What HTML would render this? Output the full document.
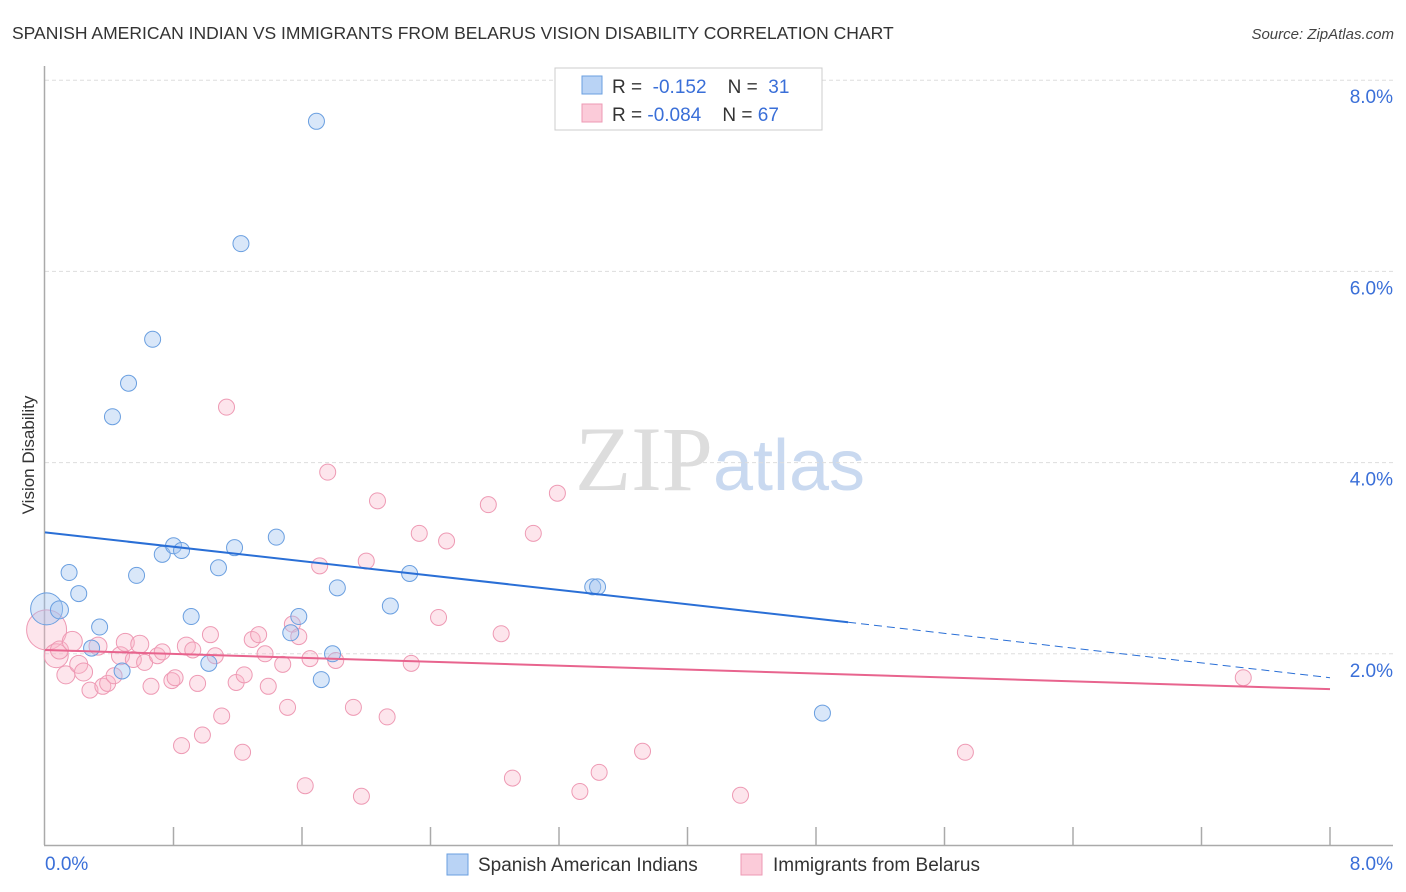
<!DOCTYPE html>
<html><head><meta charset="utf-8"><style>
body{margin:0;background:#fff;font-family:"Liberation Sans",sans-serif;}
svg{display:block}
</style></head><body>
<svg id="chart" width="1406" height="892" xmlns="http://www.w3.org/2000/svg">
<text x="12" y="39" font-size="17.5" fill="#333">SPANISH AMERICAN INDIAN VS IMMIGRANTS FROM BELARUS VISION DISABILITY CORRELATION CHART</text>
<text x="1394" y="39" font-size="15" fill="#444" font-style="italic" text-anchor="end">Source: ZipAtlas.com</text>
<text x="720" y="490" font-size="92" text-anchor="middle" fill="#ddd" font-family="Liberation Serif,serif">ZIP<tspan fill="#c9d9f0" font-family="Liberation Sans,sans-serif" font-size="72">atlas</tspan></text>
<text transform="translate(34,455) rotate(-90)" font-size="17" fill="#333" text-anchor="middle">Vision Disability</text>
<g id="grid"></g>
<line x1="44.5" y1="66" x2="44.5" y2="845" stroke="#aaa" stroke-width="1.5"/>
<line x1="44" y1="845.5" x2="1393" y2="845.5" stroke="#aaa" stroke-width="1.5"/>
<g id="ticks"></g>
<g id="pts"></g>
<g id="trends"></g>
<g>
<rect x="555" y="68" width="267" height="62" fill="#fff" stroke="#ccc"/>
<rect x="582" y="76" width="20" height="18" fill="#b9d3f5" stroke="#6a9fe0"/>
<rect x="582" y="104" width="20" height="18" fill="#fbcbd9" stroke="#ee9ab4"/>
<text x="612" y="93" font-size="19" fill="#333">R = <tspan fill="#3a6fd8">&#160;-0.152</tspan>&#160;&#160;&#160; N = <tspan fill="#3a6fd8">&#160;31</tspan></text>
<text x="612" y="121" font-size="19" fill="#333">R = <tspan fill="#3a6fd8">-0.084</tspan>&#160;&#160;&#160; N = <tspan fill="#3a6fd8">67</tspan></text>
</g>
<g>
<rect x="447" y="854" width="21" height="21" fill="#b9d3f5" stroke="#6a9fe0"/>
<text x="478" y="871" font-size="19" fill="#333">Spanish American Indians</text>
<rect x="741" y="854" width="21" height="21" fill="#fbcbd9" stroke="#ee9ab4"/>
<text x="773" y="871" font-size="19" fill="#333">Immigrants from Belarus</text>
</g>
</svg>
<script>
const xTicks=[0,8];
const yTicks=[2,4,6,8];
const blueX=[0.01,0.09,0.15,0.21,0.34,0.29,0.48,0.42,0.52,0.67,0.57,0.73,0.80,0.85,0.91,1.02,1.08,1.18,1.22,1.44,1.53,1.58,1.69,1.72,1.79,1.82,2.15,2.27,3.41,3.44,4.84];
const blueY=[2.47,2.46,2.85,2.63,2.28,2.06,1.82,4.48,4.83,5.29,2.82,3.04,3.13,3.08,2.39,1.90,2.90,3.11,6.29,3.22,2.22,2.39,7.57,1.73,2.00,2.69,2.50,2.84,2.70,2.70,1.38];
const blueR=[16,9,8,8,8,8,8,8,8,8,8,8,8,8,8,8,8,8,8,8,8,8,8,8,8,8,8,8,8,8,8];
const pinkX=[0.01,0.07,0.09,0.13,0.17,0.21,0.24,0.28,0.33,0.36,0.39,0.43,0.47,0.50,0.55,0.59,0.62,0.66,0.70,0.73,0.79,0.81,0.85,0.88,0.92,0.95,0.98,1.03,1.06,1.10,1.13,1.19,1.23,1.24,1.29,1.33,1.37,1.39,1.48,1.51,1.54,1.58,1.62,1.65,1.71,1.76,1.81,1.92,1.97,2.00,2.07,2.13,2.28,2.33,2.45,2.50,2.76,2.84,2.91,3.04,3.19,3.33,3.45,3.72,4.33,5.73,7.46];
const pinkY=[2.25,1.98,2.04,1.78,2.13,1.89,1.81,1.62,2.08,1.66,1.69,1.77,1.98,2.12,1.94,2.10,1.91,1.66,1.98,2.02,1.72,1.75,1.04,2.08,2.04,1.69,1.15,2.20,1.98,1.35,4.58,1.70,0.97,1.78,2.15,2.20,2.00,1.66,1.89,1.44,2.31,2.18,0.62,1.95,2.92,3.90,1.93,1.44,0.51,2.97,3.60,1.34,1.90,3.26,2.38,3.18,3.56,2.21,0.70,3.26,3.68,0.56,0.76,0.98,0.52,0.97,1.75];
const pinkR=[20,12,9,9,10,9,9,8,9,8,8,8,9,9,8,9,8,8,8,8,8,8,8,9,8,8,8,8,8,8,8,8,8,8,8,8,8,8,8,8,8,8,8,8,8,8,8,8,8,8,8,8,8,8,8,8,8,8,8,8,8,8,8,8,8,8,8];
const blueTrend=[[0,3.27],[5.0,2.33],[8,1.75]];
const pinkTrend=[[0,2.04],[8,1.63]];
const X0=45,X1=1330,Y0=845,PX=95.6;
const sx=v=>X0+(X1-X0)*v/8, sy=v=>Y0-v*PX;
const NS="http://www.w3.org/2000/svg";
function mk(t,a,p){const e=document.createElementNS(NS,t);for(const k in a)e.setAttribute(k,a[k]);document.getElementById(p).appendChild(e);return e;}
yTicks.forEach(v=>{
 const g=mk('line',{x1:45,x2:1393,y1:sy(v),y2:sy(v),stroke:'#ddd','stroke-dasharray':'4,3'},'grid');
 
 
 const t=mk('text',{x:1393,y:sy(v)+23,'font-size':19,fill:'#3a6fd8','text-anchor':'end'},'grid');
 t.textContent=v.toFixed(1)+'%';
 
 
});
for(let i=1;i<=10;i++){
 const l=mk('line',{x1:sx(i*0.8),x2:sx(i*0.8),y1:827,y2:845,stroke:'#aaa','stroke-width':1.5},'ticks');
 
 
}
xTicks.forEach((v,i)=>{
 const t=mk('text',{x:i?1393:45,y:870,'font-size':19,fill:'#3a6fd8','text-anchor':i?'end':'start'},'ticks');
 t.textContent=v.toFixed(1)+'%';
 
 
});
pinkX.forEach((v,i)=>{
 const c=mk('circle',{cx:sx(v),cy:sy(pinkY[i]),r:pinkR[i],fill:'rgba(248,180,200,0.35)',stroke:'#ee9ab4','stroke-width':1},'pts');
 
 
});
blueX.forEach((v,i)=>{
 const c=mk('circle',{cx:sx(v),cy:sy(blueY[i]),r:blueR[i],fill:'rgba(160,195,240,0.4)',stroke:'#6a9fe0','stroke-width':1},'pts');
 
 
});
let l=mk('line',{x1:sx(blueTrend[0][0]),y1:sy(blueTrend[0][1]),x2:sx(blueTrend[1][0]),y2:sy(blueTrend[1][1]),stroke:'#2a6fd6','stroke-width':2},'trends');


l=mk('line',{x1:sx(blueTrend[1][0]),y1:sy(blueTrend[1][1]),x2:sx(blueTrend[2][0]),y2:sy(blueTrend[2][1]),stroke:'#2a6fd6','stroke-width':1,'stroke-dasharray':'8,5'},'trends');


l=mk('line',{x1:sx(pinkTrend[0][0]),y1:sy(pinkTrend[0][1]),x2:sx(pinkTrend[1][0]),y2:sy(pinkTrend[1][1]),stroke:'#e8648e','stroke-width':2},'trends');


</script>
</body></html>
